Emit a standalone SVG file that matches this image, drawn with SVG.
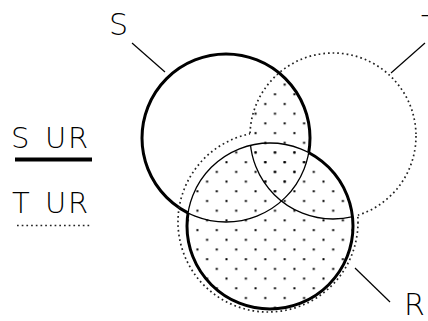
<svg xmlns="http://www.w3.org/2000/svg" width="428" height="321" viewBox="0 0 428 321">
<style>
.thick{fill:none;stroke:#000;stroke-width:3}
.thin{fill:none;stroke:#000;stroke-width:1.3}
.dotted{fill:none;stroke:#222;stroke-width:1.7;stroke-dasharray:1.7 3}
.lead{fill:none;stroke:#000;stroke-width:1.2}
.lbl{font-family:"DejaVu Sans","Liberation Sans",sans-serif;font-weight:200;font-size:30px;fill:#000}
.leg{font-family:"DejaVu Sans","Liberation Sans",sans-serif;font-weight:200;font-size:29px;fill:#000}
</style>
<defs>
<pattern id="dots" patternUnits="userSpaceOnUse" width="19.4" height="19.4">
<rect x="2.4" y="15.7" width="2" height="2" fill="#000"/>
<rect x="12.1" y="6" width="2" height="2" fill="#000"/>
</pattern>
<clipPath id="inS"><circle cx="226" cy="138" r="84"/></clipPath>
<clipPath id="outS"><path clip-rule="evenodd" d="M0,0H428V321H0Z M142,138a84,84 0 1 0 168,0a84,84 0 1 0 -168,0Z"/></clipPath>
<clipPath id="inR"><circle cx="270" cy="226" r="83"/></clipPath>
<clipPath id="outR"><path clip-rule="evenodd" d="M0,0H428V321H0Z M187,226a83,83 0 1 0 166,0a83,83 0 1 0 -166,0Z"/></clipPath>
<clipPath id="outRd"><path clip-rule="evenodd" d="M0,0H428V321H0Z M178,222a90,90 0 1 0 180,0a90,90 0 1 0 -180,0Z"/></clipPath>
<clipPath id="outT"><path clip-rule="evenodd" d="M0,0H428V321H0Z M250,136a83,83 0 1 0 166,0a83,83 0 1 0 -166,0Z"/></clipPath>
</defs>
<rect width="428" height="321" fill="#fff"/>
<g id="stipple" fill="url(#dots)">
<circle cx="270" cy="226" r="83"/>
<circle cx="333" cy="136" r="83" clip-path="url(#inS)"/>
</g>
<g id="S">
<circle class="thick" cx="226" cy="138" r="84" clip-path="url(#outR)"/>
<circle class="thin" cx="226" cy="138" r="84" clip-path="url(#inR)"/>
<text class="lbl" x="109" y="35">S</text>
</g>
<g id="T">
<circle class="dotted" cx="333" cy="136" r="83" clip-path="url(#outRd)"/>
<circle class="thin" cx="333" cy="136" r="83" clip-path="url(#inR)"/>
<text class="lbl" x="421" y="37">T</text>
</g>
<g id="R">
<circle class="thick" cx="270" cy="226" r="83" clip-path="url(#outS)"/>
<circle class="thin" cx="270" cy="226" r="83" clip-path="url(#inS)"/>
<circle class="dotted" cx="268" cy="222" r="90" clip-path="url(#outT)"/>
<text class="lbl" x="404" y="315">R</text>
</g>
<g id="connectors">
<line class="lead" x1="132" y1="43" x2="165" y2="72"/>
<line class="lead" x1="391" y1="73" x2="425" y2="43"/>
<line class="lead" x1="355" y1="268" x2="390" y2="302"/>
</g>
<g id="legend">
<text class="leg" x="11" y="148">S <tspan x="45">U</tspan><tspan x="68">R</tspan></text>
<line x1="15" y1="159.5" x2="92" y2="159.5" stroke="#000" stroke-width="4"/>
<text class="leg" x="12" y="213">T <tspan x="45">U</tspan><tspan x="68">R</tspan></text>
<line class="dotted" x1="17" y1="225.5" x2="92" y2="225.5"/>
</g>
</svg>
